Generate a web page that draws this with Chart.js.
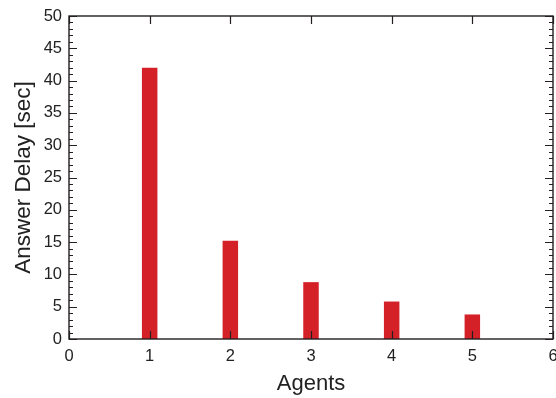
<!DOCTYPE html>
<html>
<head>
<meta charset="utf-8">
<script src="https://cdn.jsdelivr.net/npm/chart.js@4.4.0/dist/chart.umd.min.js"></script>
<style>
  html, body { margin: 0; padding: 0; background: #fff; }
  #wrap { width: 556px; height: 398px; }
</style>
</head>
<body>
<div id="wrap"><canvas id="chart" width="556" height="398"></canvas></div>
<script>
const agents = [1, 2, 3, 4, 5];
const answerDelay = [42, 15.2, 8.8, 5.8, 3.8];
const xTicks = [0, 1, 2, 3, 4, 5, 6];
const yTicks = [0, 5, 10, 15, 20, 25, 30, 35, 40, 45, 50];

const FONT = "'Liberation Sans', Arial, Helvetica, sans-serif";
const AXIS = "#231f20";

// box with inward ticks (major + minor on y), drawn over the bars
const frameTicks = {
  id: "frameTicks",
  afterDatasetsDraw(chart) {
    const { ctx, chartArea: a, scales: { x, y } } = chart;
    ctx.save();
    ctx.strokeStyle = AXIS;
    ctx.lineWidth = 1.4;
    ctx.strokeRect(a.left, a.top, a.right - a.left, a.bottom - a.top);
    ctx.beginPath();
    for (let v = 0; v <= 50; v++) {
      const py = Math.round(y.getPixelForValue(v)) + 0.5;
      const len = v % 5 === 0 ? 8 : 4;
      ctx.moveTo(a.left, py); ctx.lineTo(a.left + len, py);
      ctx.moveTo(a.right, py); ctx.lineTo(a.right - len, py);
    }
    xTicks.forEach(v => {
      const px = Math.round(x.getPixelForValue(v)) + 0.5;
      ctx.moveTo(px, a.bottom); ctx.lineTo(px, a.bottom - 8);
      ctx.moveTo(px, a.top); ctx.lineTo(px, a.top + 8);
    });
    ctx.lineWidth = 1.2;
    ctx.stroke();
    ctx.restore();
  }
};

new Chart(document.getElementById("chart"), {
  type: "bar",
  data: {
    datasets: [{
      data: agents.map((a, i) => ({ x: a, y: answerDelay[i] })),
      backgroundColor: "#d42027",
      borderWidth: 0,
      categoryPercentage: 1,
      barPercentage: 0.192
    }]
  },
  options: {
    responsive: false,
    animation: false,
    layout: { padding: { top: 16, right: 3, left: 0, bottom: 0 } },
    plugins: { legend: { display: false }, tooltip: { enabled: false } },
    scales: {
      x: {
        type: "linear",
        offset: false,
        min: 0, max: 6,
        grid: { display: false, drawTicks: false, offset: false },
        border: { display: false },
        afterBuildTicks: s => { s.ticks = xTicks.map(v => ({ value: v })); },
        afterFit: s => { s.height = 59; s.paddingLeft = 0; s.paddingRight = 0; },
        ticks: { padding: 8, color: "#222", font: { family: FONT, size: 16.5 } },
        title: {
          display: true, text: "Agents", color: "#222",
          font: { family: FONT, size: 22 }, padding: { top: 0, bottom: 1 }
        }
      },
      y: {
        min: 0, max: 50,
        grid: { display: false, drawTicks: false },
        border: { display: false },
        afterBuildTicks: s => { s.ticks = yTicks.map(v => ({ value: v })); },
        afterFit: s => { s.width = 69; s.paddingTop = 0; s.paddingBottom = 0; },
        ticks: { padding: 7, color: "#222", font: { family: FONT, size: 16.5 } },
        title: {
          display: true, text: "Answer Delay [sec]", color: "#222",
          font: { family: FONT, size: 22.5 }, padding: { top: 10, bottom: 0 }
        }
      }
    }
  },
  plugins: [frameTicks]
});
</script>
</body>
</html>
